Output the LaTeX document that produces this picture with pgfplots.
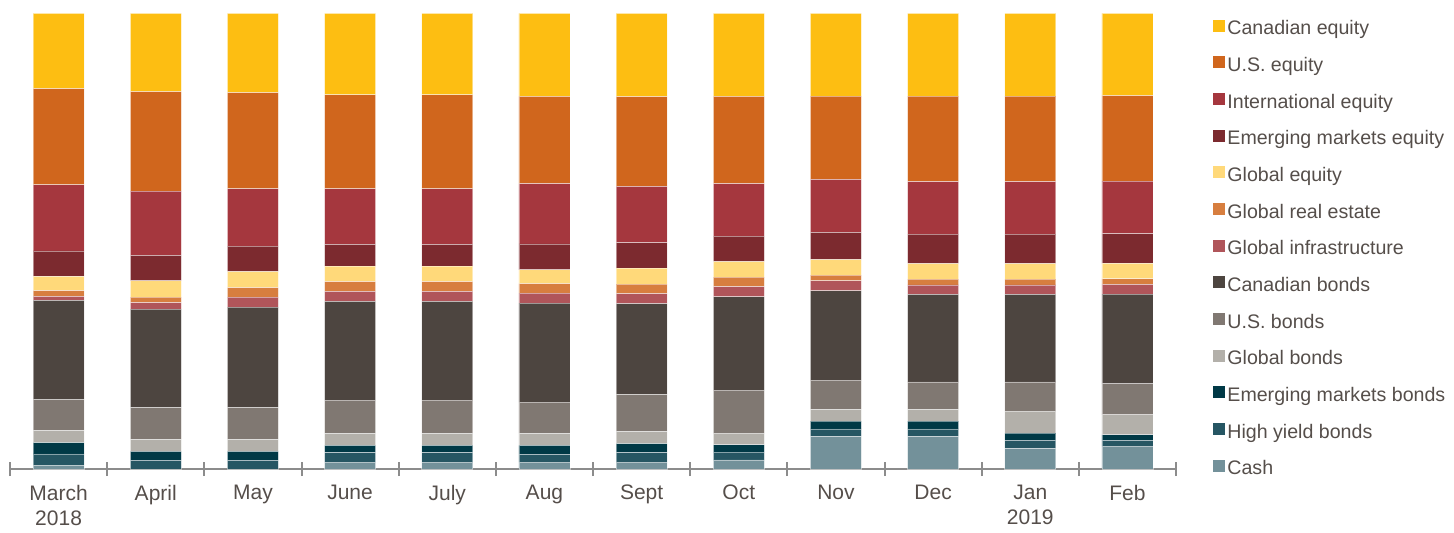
\documentclass[border=0pt]{standalone}
\usepackage{fontspec}
\setmainfont{Liberation Sans}
\usepackage{pgfplots}
\usepackage{pgfplotstable}
\pgfplotsset{compat=1.18}
\definecolor{cCE}{HTML}{FDBE12}
\definecolor{cUS}{HTML}{D0661D}
\definecolor{cIntl}{HTML}{A5373E}
\definecolor{cEM}{HTML}{7C2A2F}
\definecolor{cGE}{HTML}{FFD97A}
\definecolor{cRE}{HTML}{D77E3F}
\definecolor{cInf}{HTML}{B0555A}
\definecolor{cCB}{HTML}{4D4540}
\definecolor{cUSB}{HTML}{807872}
\definecolor{cGB}{HTML}{B3B0AA}
\definecolor{cEMB}{HTML}{003946}
\definecolor{cHY}{HTML}{265663}
\definecolor{cCash}{HTML}{73919A}
\definecolor{txt}{HTML}{554E4A}
\definecolor{axgray}{HTML}{8C8C8C}
\pgfplotstableread{
x Cash HY EMB GB USB CB Inf RE GE EM Intl US CE
0 0.7 2.6 2.5 2.6 6.9 21.7 0.9 1.25 3.1 5.6 14.5 21.1 16.55
1 0.0 1.9 2.0 2.6 7.0 21.6 1.4 1.2 3.6 5.6 14.1 21.8 17.2
2 0.0 1.9 2.0 2.6 7.0 22.0 2.2 2.1 3.5 5.6 12.6 21.1 17.4
3 1.5 2.1 1.6 2.6 7.3 21.7 2.2 2.1 3.4 4.8 12.2 20.6 17.9
4 1.5 2.1 1.6 2.6 7.3 21.7 2.2 2.1 3.4 4.8 12.2 20.6 17.9
5 1.5 1.7 2.0 2.6 6.9 21.7 2.2 2.1 3.0 5.7 13.2 19.2 18.2
6 1.5 2.1 2.0 2.6 8.1 20.0 2.2 2.1 3.5 5.6 12.3 19.7 18.3
7 2.0 1.7 1.6 2.6 9.4 20.5 2.2 2.1 3.4 5.6 11.5 19.2 18.2
8 7.1 1.7 1.7 2.6 6.4 19.6 2.2 1.25 3.4 6.0 11.6 18.3 18.15
9 7.1 1.7 1.7 2.6 6.0 19.2 2.1 1.25 3.4 6.5 11.5 18.8 18.15
10 4.5 1.8 1.6 4.8 6.4 19.2 2.1 1.25 3.4 6.5 11.5 18.8 18.15
11 5.0 1.3 1.2 4.4 6.8 19.7 2.1 1.25 3.4 6.5 11.5 18.8 18.05
}\data
\begin{document}
\begin{tikzpicture}
\begin{axis}[
  scale only axis, width=583pt, height=227.85pt,
  ymin=0, ymax=100, xmin=-0.5, xmax=11.5,
  clip=false,
  ybar stacked, bar width=25.5pt,
  axis x line*=bottom, axis y line=none,
  axis line style={draw=axgray, line width=1pt},
  xtick={0,...,11},
  xticklabels={{March\\2018},April,May,June,July,Aug,Sept,Oct,Nov,Dec,{Jan\\2019},Feb},
  xticklabel style={align=center, font=\fontsize{10.5}{12.5}\selectfont, text=txt, yshift=-4.5pt},
  major tick length=0pt,
  minor xtick={-0.5,0.5,...,11.5},
  minor tick length=7pt, tick align=center,
  minor tick style={draw=axgray, line width=1pt},
  ytick=\empty,
  reverse legend,
  legend cell align=left,
  legend style={at={(rel axis cs:1.0266,1.002)}, anchor=north west, draw=none, fill=none,
    font=\fontsize{9.8}{12}\selectfont, text=txt, row sep=6.33pt,
    nodes={inner sep=1pt, text height=8pt, text depth=2pt}},
  legend image code/.code={\fill[#1,draw=none] (0pt,-1.5pt) rectangle (6pt,4.5pt);},
  every axis plot/.append style={draw=white, draw opacity=0.45, line width=0.4pt},
]
\addplot[fill=cCash] table[x=x,y=Cash]{\data};
\addplot[fill=cHY] table[x=x,y=HY]{\data};
\addplot[fill=cEMB] table[x=x,y=EMB]{\data};
\addplot[fill=cGB] table[x=x,y=GB]{\data};
\addplot[fill=cUSB] table[x=x,y=USB]{\data};
\addplot[fill=cCB] table[x=x,y=CB]{\data};
\addplot[fill=cInf] table[x=x,y=Inf]{\data};
\addplot[fill=cRE] table[x=x,y=RE]{\data};
\addplot[fill=cGE] table[x=x,y=GE]{\data};
\addplot[fill=cEM] table[x=x,y=EM]{\data};
\addplot[fill=cIntl] table[x=x,y=Intl]{\data};
\addplot[fill=cUS] table[x=x,y=US]{\data};
\addplot[fill=cCE] table[x=x,y=CE]{\data};
\legend{Cash,High yield bonds,Emerging markets bonds,Global bonds,U.S. bonds,Canadian bonds,Global infrastructure,Global real estate,Global equity,Emerging markets equity,International equity,U.S. equity,Canadian equity}
\path (rel axis cs:-0.00858,-0.136) rectangle (rel axis cs:1.2384,1.0292);
\end{axis}
\end{tikzpicture}
\end{document}
